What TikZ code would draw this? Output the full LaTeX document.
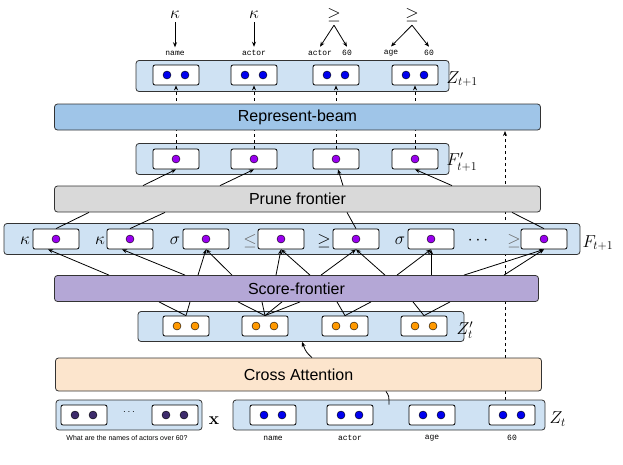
\documentclass[tikz,border=0pt]{standalone}
\usepackage[no-math]{fontspec}
\setmainfont{Liberation Sans}
\setmonofont{Liberation Mono}
\usetikzlibrary{arrows.meta}
\definecolor{contc}{HTML}{CFE2F3}
\definecolor{beamc}{HTML}{9FC5E8}
\definecolor{prunec}{HTML}{D9D9D9}
\definecolor{scorec}{HTML}{B4A7D6}
\definecolor{crossc}{HTML}{FCE5CD}
\definecolor{dblue}{HTML}{0000EE}
\definecolor{dpurp}{HTML}{9900EE}
\definecolor{dorange}{HTML}{FF9900}
\definecolor{dx}{HTML}{3D2B6B}
\tikzset{
 cont/.style={draw=black!80, fill=contc, rounded corners=3pt, line width=0.8pt, inner sep=0pt},
 bar/.style={draw=black!80, rounded corners=3pt, line width=0.8pt, inner sep=0pt, font=\fontsize{16}{18}\selectfont},
 ib/.style={draw=black, fill=white, rounded corners=2pt, line width=0.8pt, minimum width=46pt, minimum height=20pt, inner sep=0pt},
 dot/.style={circle, draw=black, line width=0.4pt, minimum size=8pt, inner sep=0pt},
 arr/.style={-{Stealth[length=5pt,width=4pt]}, line width=0.8pt},
 ln/.style={line width=0.8pt},
 darr/.style={dashed, line width=0.8pt, -{Stealth[length=5pt,width=4pt]}},
 mono/.style={font=\ttfamily\fontsize{8}{9}\selectfont},
 lab/.style={font=\fontsize{17}{19}\selectfont, anchor=west},
 sym/.style={font=\fontsize{16}{17}\selectfont},
}
\begin{document}
\begin{tikzpicture}[x=1pt,y=-1pt]
\useasboundingbox (0,0) rectangle (623,464);
% long dashed arrow (behind)
\coordinate (dsA) at (505,400);
\coordinate (dsB) at (505,131);
\draw[darr] (dsA) -- (dsB);
% containers
\node[cont, minimum width=313pt, minimum height=31pt] (ztp) at (292.5,76) {};
\node[cont, minimum width=313pt, minimum height=31pt] (fp) at (292.5,159) {};
\node[cont, minimum width=576pt, minimum height=31pt] (ft) at (292,239) {};
\node[cont, minimum width=326pt, minimum height=30pt] (zq) at (301,326.5) {};
\node[cont, minimum width=146pt, minimum height=30pt] (xc) at (129,415) {};
\node[cont, minimum width=312pt, minimum height=30pt] (zt) at (389,415) {};
% labels
\node[lab] at (443,79) {$Z_{t+1}$};
\node[lab] at (443,162) {$F'_{t+1}$};
\node[lab] at (579,243) {$F_{t+1}$};
\node[lab] at (453,330) {$Z'_{t}$};
\node[lab] at (546,419) {$Z_{t}$};
\node[font=\fontsize{17}{19}\selectfont] at (214,421) {$\mathbf{x}$};
% Z_{t+1} boxes
\foreach \i/\x in {1/176,2/254,3/336,4/415}{
 \node[ib] (a\i) at (\x,75) {};
 \node[dot,fill=dblue] at (\x-9,75) {}; \node[dot,fill=dblue] at (\x+9,75) {};
 \node[ib] (b\i) at (\x,159) {};
 \node[dot,fill=dpurp] at (\x,159) {};
}
% F' dashed to Z
\foreach \i in {1,...,4}{\draw[darr] (b\i.north) -- (a\i.south);}
% bars
\node[bar, fill=beamc, minimum width=486pt, minimum height=26pt] (beam) at (297.5,117) {Represent-beam};
\node[bar, fill=prunec, minimum width=486pt, minimum height=26pt] (prune) at (297.5,199) {Prune frontier};
\node[bar, fill=scorec, minimum width=484pt, minimum height=26pt] (score) at (296.5,288.5) {Score-frontier};
\node[bar, fill=crossc, minimum width=486pt, minimum height=33pt] (cross) at (298.5,374.5) {Cross Attention};
% F_{t+1} boxes
\foreach \i/\x in {1/56,2/130,3/206,4/281,5/356,6/431,7/544}{
 \node[ib] (c\i) at (\x,239) {};
 \node[dot,fill=dpurp] at (\x,239) {};
}
\foreach \x/\t in {25/$\kappa$,100/$\kappa$,175/$\sigma$,324/$\geq$,400/$\sigma$,478/$\cdots$,514/{\color{black!60}$\geq$}}{
 \node[sym] at (\x,241) {\t};}
\node[sym,text=black!60] at (250,241) {$\leq$};
% Z'_t boxes
\foreach \i/\x in {1/186,2/265,3/345,4/424}{
 \node[ib] (d\i) at (\x,326) {};
 \node[dot,fill=dorange] at (\x-9,326) {}; \node[dot,fill=dorange] at (\x+9,326) {};
}
% x boxes
\foreach \i/\x in {1/84,2/175}{
 \node[ib] (e\i) at (\x,415) {};
 \node[dot,fill=dx] at (\x-9,415) {}; \node[dot,fill=dx] at (\x+9,415) {};
}
\node at (129,412) {$\cdots$};
\node[font=\fontsize{7}{8}\selectfont] (q) at (127,438) {What are the names of actors over 60?};
% Z_t boxes
\foreach \i/\x/\w in {1/273/name,2/350/actor,3/432/age,4/512/60}{
 \node[ib] (g\i) at (\x,415) {};
 \node[dot,fill=dblue] at (\x-9,415) {}; \node[dot,fill=dblue] at (\x+9,415) {};
 \node[mono] at (\x,438) {\w};
}
% top labels
\node[mono] (n1) at (175,53) {name};
\node[mono] (n2) at (254,53) {actor};
\node[mono] (n3) at (320,53) {actor};
\node[mono] (n4) at (347,53) {60};
\node[mono] (n5) at (391,53) {age};
\node[mono] (n6) at (429,53) {60};
\node[sym] (k1) at (175,15) {$\kappa$};
\node[sym] (k2) at (254,15) {$\kappa$};
\node[sym] (k3) at (334,15) {$\geq$};
\node[sym] (k4) at (412,15) {$\geq$};
\draw[arr] (k1.south) -- (n1.north);
\draw[arr] (k2.south) -- (n2.north);
\draw[arr] (k3.south) -- (n3.north);
\draw[arr] (k3.south) -- (n4.north);
\draw[arr] (k4.south) -- (n5.north);
\draw[arr] (k4.south) -- (n6.north);
% prune connections
\draw[ln] (c1.north) -- (prune.south -| 89,0);
\draw[ln] (c2.north) -- (prune.south -| 165,0);
\draw[ln] (c5.north) -- (prune.south -| 347,0);
\draw[ln] (c7.north) -- (prune.south -| 512,0);
\draw[arr] (prune.north -| 143,0) -- (b1.south);
\draw[arr] (prune.north -| 220,0) -- (b2.south);
\draw[arr] (prune.north -| 343,0) -- ([xshift=2pt]b3.south);
\draw[arr] (prune.north -| 452,0) -- (b4.south);
% score to F
\draw[arr] (score.north -| 109,0) -- ([xshift=-8pt]c1.south);
\draw[arr] (score.north -| 185,0) -- ([xshift=-8pt]c2.south);
\draw[arr] (score.north -| 198,0) -- (c3.south);
\draw[arr] (score.north -| 232,0) -- (c3.south);
\draw[arr] (score.north -| 276,0) -- (c4.south);
\draw[arr] (score.north -| 310,0) -- (c4.south);
\draw[arr] (score.north -| 321,0) -- (c5.south);
\draw[arr] (score.north -| 385,0) -- (c5.south);
\draw[arr] (score.north -| 397,0) -- (c6.south);
\draw[arr] (score.north -| 431,0) -- (c6.south);
\draw[arr] (score.north -| 464,0) -- (c7.south);
\draw[arr] (score.north -| 504,0) -- (c7.south);
% Z' to score
\foreach \i/\x in {1/159,1/190,2/238,2/262,2/282,2/300,3/337,3/371,4/413,4/450}{
 \draw[ln] (d\i.north) -- (score.south -| \x,0);}
% cross attention
\draw[ln] (g2.north -| 389,0) .. controls (389,396) .. (cross.south -| 386,0);
\draw[arr] (cross.north -| 312,0) .. controls (306,352) .. (zq.south -| 302,0);
\end{tikzpicture}
\end{document}
